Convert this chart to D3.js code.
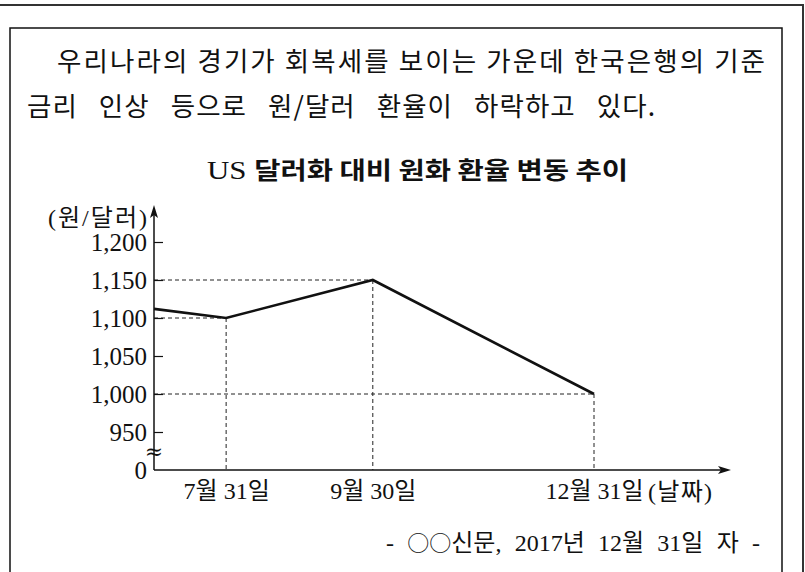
<!DOCTYPE html>
<html>
<head>
<meta charset="utf-8">
<script src="https://cdn.jsdelivr.net/npm/d3@7"></script>
<style>
  body { margin: 0; background: #fff; }
  svg { display: block; }
</style>
</head>
<body>
<svg id="chart" width="805" height="572"></svg>
<script>
// data
const dates = ["2017-07-01", "2017-07-31", "2017-09-30", "2017-12-31"];
const rates = [1112, 1100, 1150, 1000];
const dateLabels = ["7월 31일", "9월 30일", "12월 31일"];   // labelled points (index 1..3)
const yTickValues = [900, 950, 1000, 1050, 1100, 1150, 1200];
const yTickLabels = ["0", "950", "1,000", "1,050", "1,100", "1,150", "1,200"];
const paragraph = [
  "우리나라의 경기가 회복세를 보이는 가운데 한국은행의 기준",
  "금리 인상 등으로 원/달러 환율이 하락하고 있다."
];
const title = "달러화 대비 원화 환율 변동 추이";

const SERIF = "'Liberation Serif', 'Noto Sans CJK KR', serif";
const KR = "'Noto Sans CJK KR', sans-serif";
const ink = "#111";

const svg = d3.select("#chart");
const parse = d3.timeParse("%Y-%m-%d");
const points = dates.map((d, i) => ({ date: parse(d), value: rates[i] }));

// frames
svg.append("path")
  .attr("d", "M0,5 H803 V572")
  .attr("fill", "none").attr("stroke", "#333").attr("stroke-width", 2);
svg.append("path")
  .attr("d", "M10,572 V28 H782 V572")
  .attr("fill", "none").attr("stroke", ink).attr("stroke-width", 1.5);

// paragraph text: first line justified by letter spacing,
// second line uses a smaller letter gap and widens the word gaps
const lines = [
  { x: 57, y: 71, w: 708 },
  { x: 27, y: 116, w: 628 }
];
let letterGap = 0;
paragraph.forEach((t, i) => {
  const el = svg.append("text")
    .attr("x", lines[i].x).attr("y", lines[i].y)
    .attr("font-family", KR).attr("font-size", 26.5)
    .attr("fill", ink)
    .text(t);
  const spaces = t.split(" ").length - 1;
  const len = el.node().getComputedTextLength();
  if (i === 0) {
    letterGap = (lines[i].w - len) / (t.length - 1);
    el.attr("letter-spacing", letterGap);
  } else {
    const gap = letterGap * 0.5;
    el.attr("letter-spacing", gap);
    const len2 = len + gap * (t.length - 1);
    el.attr("word-spacing", Math.max(0, (lines[i].w - len2) / spaces));
  }
});

// chart title
const titleEl = svg.append("text")
  .attr("x", 207).attr("y", 179)
  .attr("fill", ink)
  .attr("textLength", 421).attr("lengthAdjust", "spacingAndGlyphs");
titleEl.append("tspan")
  .attr("font-family", SERIF).attr("font-size", 26)
  .text("US ");
titleEl.append("tspan")
  .attr("font-family", KR).attr("font-size", 24).attr("font-weight", "bold")
  .text(title);

// scales
const x = d3.scaleTime()
  .domain([parse("2017-07-01"), parse("2017-12-31")])
  .range([154, 594]);
const y = d3.scaleLinear()
  .domain([900, 1200])
  .range([470, 242]);
const x0 = x.range()[0], y0 = y.range()[0];
const xEnd = 731, yTop = 205;

// dashed guides
const guide = svg.append("g")
  .attr("stroke", "#222").attr("stroke-width", 1)
  .attr("stroke-dasharray", "4,3").attr("fill", "none");
points.slice(1).forEach(p => {
  guide.append("line")
    .attr("x1", x0).attr("x2", x(p.date))
    .attr("y1", y(p.value)).attr("y2", y(p.value));
  guide.append("line")
    .attr("x1", x(p.date)).attr("x2", x(p.date))
    .attr("y1", y(p.value)).attr("y2", y0);
});

// y axis ticks + labels
const yAxis = d3.axisLeft(y)
  .tickValues(yTickValues)
  .tickSizeInner(-9).tickSizeOuter(0)
  .tickPadding(7)
  .tickFormat((d, i) => yTickLabels[i]);
const gy = svg.append("g")
  .attr("transform", `translate(${x0},0)`)
  .call(yAxis);
gy.select(".domain").remove();
gy.selectAll(".tick line").attr("stroke", ink).attr("stroke-width", 1.2)
  .filter(d => d === 900).remove();
gy.selectAll(".tick text")
  .attr("font-family", SERIF).attr("font-size", 25)
  .attr("fill", ink).attr("dy", "0.34em");

// x axis labels
const xAxis = d3.axisBottom(x)
  .tickValues(points.slice(1).map(p => p.date))
  .tickSize(0).tickPadding(12)
  .tickFormat((d, i) => dateLabels[i]);
const gx = svg.append("g")
  .attr("transform", `translate(0,${y0})`)
  .call(xAxis);
gx.select(".domain").remove();
gx.selectAll(".tick text")
  .attr("font-family", SERIF).attr("font-size", 24)
  .attr("fill", ink);

svg.append("text")
  .attr("x", 648).attr("y", 500)
  .attr("font-family", SERIF).attr("font-size", 24).attr("fill", ink)
  .attr("textLength", 64).attr("lengthAdjust", "spacing")
  .text("(날짜)");

// axis lines with arrowheads
svg.append("line")
  .attr("x1", x0).attr("x2", x0).attr("y1", y0).attr("y2", yTop + 6)
  .attr("stroke", ink).attr("stroke-width", 1.5);
svg.append("line")
  .attr("x1", x0).attr("x2", xEnd - 6).attr("y1", y0).attr("y2", y0)
  .attr("stroke", ink).attr("stroke-width", 1.5);
svg.append("path")
  .attr("d", `M${x0},${yTop} L${x0 - 4},${yTop + 13} L${x0},${yTop + 10} L${x0 + 4},${yTop + 13} Z`)
  .attr("fill", ink);
svg.append("path")
  .attr("d", `M${xEnd},${y0} L${xEnd - 13},${y0 - 4} L${xEnd - 10},${y0} L${xEnd - 13},${y0 + 4} Z`)
  .attr("fill", ink);

// axis break mark
svg.append("text")
  .attr("x", x0).attr("y", 459)
  .attr("text-anchor", "middle")
  .attr("font-family", "'DejaVu Serif', serif").attr("font-size", 22).attr("fill", ink)
  .text("≈");

// y unit label
svg.append("text")
  .attr("x", 48).attr("y", 226)
  .attr("font-family", SERIF).attr("font-size", 24).attr("fill", ink)
  .attr("textLength", 99).attr("lengthAdjust", "spacing")
  .text("(원/달러)");

// exchange rate line
svg.append("path")
  .datum(points)
  .attr("d", d3.line().x(d => x(d.date)).y(d => y(d.value)))
  .attr("fill", "none").attr("stroke", ink)
  .attr("stroke-width", 2.6).attr("stroke-linejoin", "miter");

// source, widened at the word gaps to span 386..760
const src = svg.append("text")
  .attr("x", 386).attr("y", 551)
  .attr("font-family", SERIF).attr("font-size", 24).attr("fill", ink);
src.append("tspan").text("- ");
src.append("tspan").attr("font-family", KR).attr("font-size", 22).text("○○");
src.append("tspan").text("신문, 2017년 12월 31일 자 -");
{
  const len = src.node().getComputedTextLength();
  src.attr("word-spacing", Math.max(0, (374 - len) / 6));
}
</script>
</body>
</html>
